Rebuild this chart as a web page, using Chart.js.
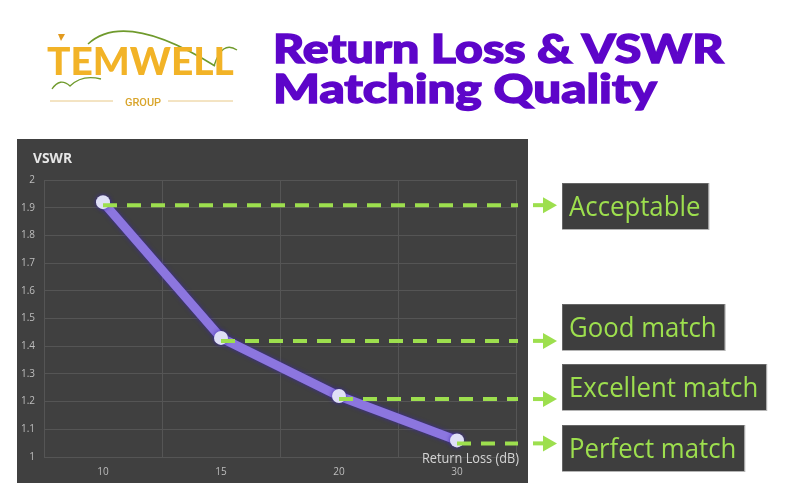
<!DOCTYPE html>
<html>
<head>
<meta charset="utf-8">
<script src="https://cdn.jsdelivr.net/npm/chart.js@4/dist/chart.umd.min.js"></script>
<style>
  body { margin: 0; background: #ffffff; }
  #wrap { position: relative; width: 800px; height: 500px; overflow: hidden; }
  #chart { position: absolute; left: 0; top: 0; }
  .title {
    position: absolute; left: 273px; margin: 0;
    font-family: "Lato", "Roboto", sans-serif; font-weight: 900;
    font-size: 40px; line-height: 40px; color: #5d05c9;
    -webkit-text-stroke: 1.4px #5d05c9;
    white-space: nowrap; transform-origin: 0 0;
  }
  #logoText {
    position: absolute; left: 47px; top: 42px;
    font-family: "Lato", "Roboto", sans-serif; font-weight: 900;
    font-size: 37px; line-height: 37px; color: #f2b327;
    white-space: nowrap; transform-origin: 0 0;
  }
  #logoArt { position: absolute; left: 0; top: 0; }
</style>
</head>
<body>
<div id="wrap">
  <canvas id="chart" width="800" height="500"></canvas>
  <svg id="logoArt" width="260" height="120">
    <path d="M88 44 Q125 10 215 66" fill="none" stroke="#6f9a2c" stroke-width="1.6"/>
    <path d="M214 66 Q222 40 237 50" fill="none" stroke="#6f9a2c" stroke-width="1.4"/>
    <path d="M52 89 Q60 77 70 86 Q82 74 101 79" fill="none" stroke="#6f9a2c" stroke-width="1.3"/>
    <path d="M58 34 L65 34 L61 41 Z" fill="#e29a1e"/>
    <line x1="50" y1="101" x2="113" y2="101" stroke="#e8c887" stroke-width="1"/>
    <line x1="168" y1="101" x2="233" y2="101" stroke="#e8c887" stroke-width="1"/>
    <text x="143" y="106" text-anchor="middle" font-family="Roboto, sans-serif" font-size="11" font-weight="500" fill="#d9a52c">GROUP</text>
  </svg>
  <div id="logoText">TEMWELL</div>
  <div class="title" id="title1" style="top:28px">Return Loss &amp; VSWR</div>
  <div class="title" id="title2" style="top:68px">Matching Quality</div>
</div>
<script>
// Data
const returnLoss = ["10", "15", "20", "30"];
const vswr = [1.92, 1.43, 1.22, 1.06];
const qualityLabels = ["Acceptable", "Good match", "Excellent match", "Perfect match"];
const yMin = 1;
const yMax = 2;
const yStep = 0.1;

// stretch the html text to the widths in the picture
function fitWidth(id, target) {
  let el = document.getElementById(id);
  el.style.transform = "scaleX(" + target / el.offsetWidth + ")";
}

const green = "#9ddf4e";

// dark panel behind the chart, axis titles
const panelPlugin = {
  id: "panel",
  beforeDraw: (chart) => {
    const { ctx } = chart;
    ctx.save();
    ctx.fillStyle = "#404040";
    ctx.fillRect(17, 139, 511, 344);
    ctx.restore();
  },
  afterDraw: (chart) => {
    const { ctx } = chart;
    ctx.save();
    ctx.fillStyle = "#e6e6e6";
    ctx.font = "bold 14px 'Open Sans'";
    ctx.textBaseline = "alphabetic";
    ctx.fillText("VSWR", 33, 163, 39);
    ctx.fillStyle = "#d4d4d4";
    ctx.font = "15px 'Open Sans'";
    ctx.textAlign = "right";
    ctx.fillText("Return Loss (dB)", chart.chartArea.right + 3, 463, 97);
    ctx.restore();
  },
};

// shadow round the purple line
const glowPlugin = {
  id: "glow",
  beforeDatasetDraw: (chart) => {
    chart.ctx.save();
    chart.ctx.shadowColor = "rgba(60,40,170,0.9)";
    chart.ctx.shadowBlur = 4;
  },
  afterDatasetDraw: (chart) => {
    chart.ctx.restore();
  },
};

// dashed leaders, arrows and the quality boxes
const calloutPlugin = {
  id: "callouts",
  afterDatasetsDraw: (chart) => {
    const { ctx, chartArea } = chart;
    const meta = chart.getDatasetMeta(0);
    const boxTops = [183, 304, 364, 425];
    ctx.save();
    meta.data.forEach((pt, i) => {
      let y = pt.y + 3;
      // dashed line
      ctx.strokeStyle = green;
      ctx.lineWidth = 4;
      ctx.setLineDash([14, 10]);
      ctx.beginPath();
      ctx.moveTo(pt.x, y);
      ctx.lineTo(chartArea.right + 2, y);
      ctx.stroke();
      ctx.setLineDash([]);
      // arrow
      ctx.beginPath();
      ctx.moveTo(533, y);
      ctx.lineTo(545, y);
      ctx.stroke();
      ctx.fillStyle = green;
      ctx.beginPath();
      ctx.moveTo(543, y - 8);
      ctx.lineTo(557, y);
      ctx.lineTo(543, y + 8);
      ctx.closePath();
      ctx.fill();
      // label box
      ctx.font = "28px 'Open Sans'";
      let w = ctx.measureText(qualityLabels[i]).width * 0.92;
      let top = boxTops[i];
      ctx.fillStyle = "#3e3e3e";
      ctx.fillRect(562, top, w + 15, 46);
      ctx.strokeStyle = "rgba(130,130,130,0.6)";
      ctx.lineWidth = 1;
      ctx.strokeRect(562.5, top + 0.5, w + 15, 46);
      ctx.fillStyle = green;
      ctx.fillText(qualityLabels[i], 569, top + 33, w);
    });
    ctx.restore();
  },
};

function drawChart() {
  fitWidth("title1", 450);
  fitWidth("title2", 384);
  fitWidth("logoText", 187);

  const ctx = document.getElementById("chart");
  new Chart(ctx, {
    type: "line",
    data: {
      labels: returnLoss,
      datasets: [
        {
          label: "VSWR",
          data: vswr,
          borderColor: "#8c76df",
          borderWidth: 9,
          tension: 0,
          pointRadius: 7,
          pointBackgroundColor: "#dfe0f6",
          pointBorderWidth: 0,
        },
      ],
    },
    options: {
      responsive: false,
      animation: false,
      devicePixelRatio: 1,
      layout: { padding: { top: 180, left: 14, right: 284, bottom: 17 } },
      plugins: {
        legend: { display: false },
        tooltip: { enabled: false },
      },
      scales: {
        x: {
          offset: true,
          grid: { offset: true, color: "#555555", drawTicks: false },
          border: { display: false },
          ticks: { color: "#bdbdbd", font: { family: "Open Sans", size: 10 }, padding: 9 },
          afterFit: (s) => { s.height = 26; },
        },
        y: {
          min: yMin,
          max: yMax,
          grid: { color: "#555555", drawTicks: false },
          border: { display: false },
          ticks: {
            stepSize: yStep,
            color: "#bdbdbd",
            font: { family: "Open Sans", size: 10 },
            padding: 9,
            callback: (v) => String(+v.toFixed(1)),
          },
          afterFit: (s) => { s.width = 30; },
        },
      },
    },
    plugins: [panelPlugin, glowPlugin, calloutPlugin],
  });
}

if (document.fonts && document.fonts.ready) {
  document.fonts.ready.then(drawChart);
} else {
  drawChart();
}
</script>
</body>
</html>
